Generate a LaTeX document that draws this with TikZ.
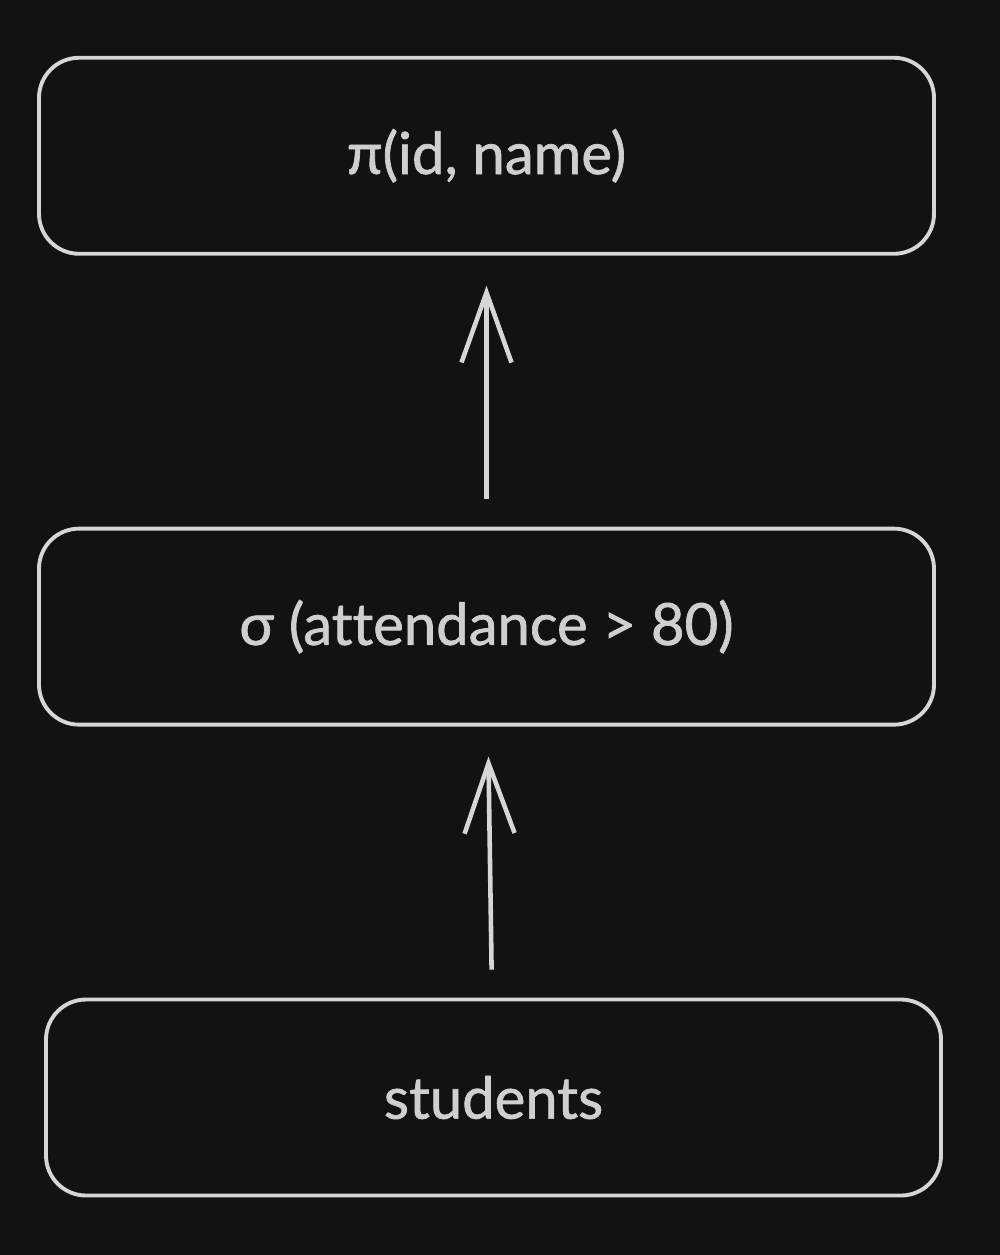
\documentclass[tikz,border=0pt]{standalone}
\usepackage{fontspec}
\setmainfont{Lato}[FakeBold=1.2,Ligatures=NoCommon]
\usepackage{tikz}
\usetikzlibrary{arrows.meta,positioning}
\definecolor{cBg}{HTML}{121212}
\definecolor{cLine}{HTML}{D6D6D6}
\definecolor{cText}{HTML}{CFCFCF}
\tikzset{
  opbox/.style={rounded corners=4mm,draw=cLine,line width=1.1pt,fill=cBg,
                minimum width=8.95cm,minimum height=1.96cm,
                text=cText,font=\fontsize{16.5}{20}\selectfont},
  up/.style={-{Straight Barb[length=7mm,width=5mm]},line width=1.3pt,cLine,
             shorten <=2.8mm,shorten >=3mm},
}
\begin{document}
\begin{tikzpicture}[node distance=2.71cm]
\fill[cBg] (0,0) rectangle (10,-12.55);
\useasboundingbox (0,0) rectangle (10,-12.55);
\node[opbox] (rel) at (4.935,-10.975) {students};
\node[opbox,above=of rel,xshift=-0.07cm] (sel) {σ (attendance > 80)};
\node[opbox,above=of sel] (proj) {π(id, name)};
\draw[up] (rel) -- (sel);
\draw[up] (sel) -- (proj);
\end{tikzpicture}
\end{document}
